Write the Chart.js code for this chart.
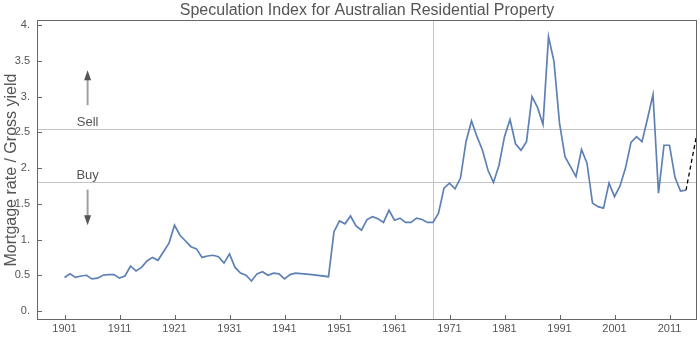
<!DOCTYPE html>
<html>
<head>
<meta charset="utf-8">
<script src="https://cdn.jsdelivr.net/npm/chart.js@4"></script>
<style>
  html, body { margin: 0; padding: 0; background: #fff; }
  canvas { display: block; }
</style>
</head>
<body>
<canvas id="chart" width="700" height="352"></canvas>
<script>
// annual index (1944-48 missing)
const years = [
  1901, 1902, 1903, 1904, 1905, 1906, 1907, 1908, 1909, 1910,
  1911, 1912, 1913, 1914, 1915, 1916, 1917, 1918, 1919, 1920,
  1921, 1922, 1923, 1924, 1925, 1926, 1927, 1928, 1929, 1930,
  1931, 1932, 1933, 1934, 1935, 1936, 1937, 1938, 1939, 1940,
  1941, 1942, 1943, 1946, 1949, 1950,
  1951, 1952, 1953, 1954, 1955, 1956, 1957, 1958, 1959, 1960,
  1961, 1962, 1963, 1964, 1965, 1966, 1967, 1968, 1969, 1970,
  1971, 1972, 1973, 1974, 1975, 1976, 1977, 1978, 1979, 1980,
  1981, 1982, 1983, 1984, 1985, 1986, 1987, 1988, 1989, 1990,
  1991, 1992, 1993, 1994, 1995, 1996, 1997, 1998, 1999, 2000,
  2001, 2002, 2003, 2004, 2005, 2006, 2007, 2008, 2009, 2010,
  2011, 2012, 2013, 2014
];
const index = [
  0.47, 0.52, 0.47, 0.49, 0.50, 0.45, 0.46, 0.50, 0.51, 0.51,
  0.46, 0.49, 0.63, 0.56, 0.61, 0.70, 0.75, 0.71, 0.83, 0.95,
  1.20, 1.06, 0.98, 0.90, 0.87, 0.75, 0.77, 0.78, 0.76, 0.67,
  0.80, 0.61, 0.53, 0.50, 0.42, 0.52, 0.55, 0.50, 0.53, 0.52,
  0.45, 0.51, 0.53, 0.51, 0.48, 1.11,
  1.26, 1.22, 1.33, 1.19, 1.13, 1.28, 1.32, 1.29, 1.24, 1.41,
  1.27, 1.30, 1.24, 1.24, 1.30, 1.28, 1.24, 1.24, 1.37, 1.72,
  1.79, 1.71, 1.86, 2.37, 2.66, 2.44, 2.25, 1.97, 1.80, 2.04,
  2.44, 2.68, 2.34, 2.25, 2.37, 3.00, 2.85, 2.61, 3.84, 3.49,
  2.63, 2.16, 2.02, 1.88, 2.26, 2.07, 1.51, 1.46, 1.44, 1.79,
  1.60, 1.75, 2.00, 2.36, 2.44, 2.37, 2.69, 3.03, 1.65, 2.32,
  2.32, 1.87, 1.68, 1.69
];
const forecastYears = [2014, 2016];
const forecastIndex = [1.69, 2.49];

const xTickYears = [1901, 1911, 1921, 1931, 1941, 1951, 1961, 1971, 1981, 1991, 2001, 2011];
const yTickValues = [0, 0.5, 1, 1.5, 2, 2.5, 3, 3.5, 4];

const buyLevel = 1.8;
const sellLevel = 2.55;
const markYear = 1968;

const FONT = "'Liberation Sans', Arial, sans-serif";
const TEXT = '#555555';

function seg(ctx, x1, y1, x2, y2) {
  ctx.beginPath();
  ctx.moveTo(x1, y1);
  ctx.lineTo(x2, y2);
  ctx.stroke();
}

function arrow(ctx, x, yFrom, yTo) {
  const dir = yTo < yFrom ? -1 : 1;
  ctx.strokeStyle = '#a0a0a0';
  ctx.lineWidth = 2;
  seg(ctx, x, yFrom, x, yTo - dir * 8);
  ctx.fillStyle = '#555555';
  ctx.beginPath();
  ctx.moveTo(x, yTo);
  ctx.lineTo(x - 3.5, yTo - dir * 10);
  ctx.lineTo(x + 3.5, yTo - dir * 10);
  ctx.closePath();
  ctx.fill();
}

const decor = {
  id: 'decor',
  beforeDatasetsDraw(chart) {
    const { ctx, chartArea: a, scales: { x, y } } = chart;
    ctx.save();
    ctx.strokeStyle = '#c4c4c4';
    ctx.lineWidth = 1;
    [buyLevel, sellLevel].forEach(v => {
      const py = Math.round(y.getPixelForValue(v)) + 0.5;
      seg(ctx, a.left, py, a.right, py);
    });
    const px = Math.round(x.getPixelForValue(markYear)) + 0.5;
    seg(ctx, px, a.top, px, a.bottom);

    // Sell / Buy notes
    const ax = x.getPixelForValue(1905.2);
    ctx.font = '13px ' + FONT;
    ctx.fillStyle = TEXT;
    ctx.textAlign = 'center';
    ctx.textBaseline = 'middle';
    ctx.fillText('Sell', ax, y.getPixelForValue(2.64));
    ctx.fillText('Buy', ax, y.getPixelForValue(1.90));
    arrow(ctx, ax, y.getPixelForValue(2.88), y.getPixelForValue(3.37));
    arrow(ctx, ax, y.getPixelForValue(1.70), y.getPixelForValue(1.20));
    ctx.restore();
  },
  afterDraw(chart) {
    const { ctx, chartArea: a, scales: { x, y } } = chart;
    ctx.save();
    ctx.strokeStyle = '#666666';
    ctx.lineWidth = 1;
    ctx.strokeRect(Math.round(a.left) + 0.5, Math.round(a.top) + 0.5,
      Math.round(a.right - a.left) - 1, Math.round(a.bottom - a.top) - 1);
    // inward ticks
    xTickYears.forEach(v => {
      const px = Math.round(x.getPixelForValue(v)) + 0.5;
      seg(ctx, px, a.bottom, px, a.bottom - 5);
    });
    yTickValues.forEach(v => {
      const py = Math.round(y.getPixelForValue(v)) + 0.5;
      seg(ctx, a.left, py, a.left + 5, py);
    });
    ctx.restore();
  }
};

const config = {
  type: 'line',
  data: {
    datasets: [
      {
        data: years.map((yr, i) => ({ x: yr, y: index[i] })),
        borderColor: '#5e81b5',
        borderWidth: 1.7,
        pointRadius: 0,
        tension: 0,
        fill: false
      },
      {
        data: forecastYears.map((yr, i) => ({ x: yr, y: forecastIndex[i] })),
        borderColor: '#000000',
        borderWidth: 1.3,
        borderDash: [4, 3],
        pointRadius: 0,
        tension: 0,
        fill: false
      }
    ]
  },
  options: {
    responsive: false,
    animation: false,
    devicePixelRatio: 1,
    layout: { padding: { left: 0, right: 3, top: 0, bottom: 0 } },
    plugins: {
      legend: { display: false },
      tooltip: { enabled: false },
      title: {
        display: true,
        text: 'Speculation Index for Australian Residential Property',
        fullSize: false,
        color: TEXT,
        font: { family: FONT, size: 16, weight: 'normal' },
        padding: { top: 1, bottom: 0 }
      }
    },
    scales: {
      x: {
        type: 'linear',
        min: 1896,
        max: 2016,
        grid: { display: false, drawTicks: false },
        border: { display: false },
        afterBuildTicks: s => { s.ticks = xTickYears.map(v => ({ value: v })); },
        afterFit: s => { s.height = 32; },
        ticks: {
          autoSkip: false,
          maxRotation: 0,
          padding: 2,
          color: TEXT,
          font: { family: FONT, size: 11 },
          callback: v => String(v)
        }
      },
      y: {
        min: -0.126,
        max: 4.07,
        grid: { display: false, drawTicks: false },
        border: { display: false },
        afterBuildTicks: s => { s.ticks = yTickValues.map(v => ({ value: v })); },
        afterFit: s => { s.width = 37; },
        ticks: {
          padding: 7,
          color: TEXT,
          font: { family: FONT, size: 11 },
          callback: v => Number.isInteger(v) ? v + '.' : String(v)
        },
        title: {
          display: true,
          text: 'Mortgage rate / Gross yield',
          color: TEXT,
          font: { family: FONT, size: 16 },
          padding: { top: 2, bottom: 0 }
        }
      }
    }
  },
  plugins: [decor]
};

new Chart(document.getElementById('chart').getContext('2d'), config);
</script>
</body>
</html>
